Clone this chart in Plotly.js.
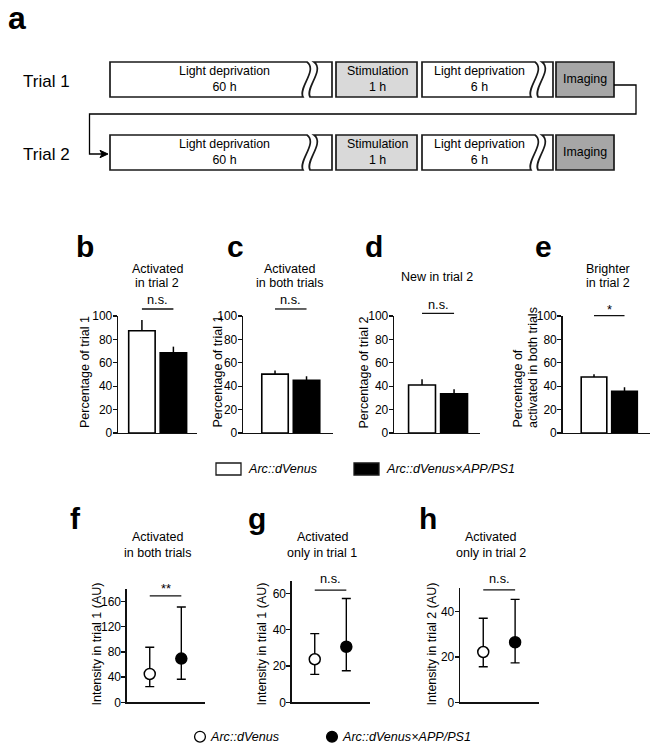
<!DOCTYPE html>
<html><head><meta charset="utf-8">
<script src="https://cdn.plot.ly/plotly-3.0.1.min.js"></script>
<style>body{margin:0;padding:0;background:#fff}#chart{width:662px;height:753px}</style>
</head><body><div id="chart"></div>
<script>
// ---------------- DATA ----------------
const groups = ['Arc::dVenus', 'Arc::dVenus×APP/PS1'];

// panel a (protocol)
const trialLabels = ['Trial 1', 'Trial 2'];
const stageLabels = ['Light deprivation<br>60 h', 'Stimulation<br>1 h', 'Light deprivation<br>6 h', 'Imaging'];

// panels b-e (bars: mean, error)
const barTitles = [['Activated', 'in trial 2'], ['Activated', 'in both trials'], ['New in trial 2'], ['Brighter', 'in trial 2']];
const barYLabels = [['Percentage of trial 1'], ['Percentage of trial 1'], ['Percentage of trial 2'], ['Percentage of', 'activated in both trials']];
const meanB = [87.4, 68.6], errB = [9.1, 5.2];
const meanC = [50.3, 45.0], errC = [3.2, 3.5];
const meanD = [41.0, 33.6], errD = [4.9, 3.7];
const meanE = [47.8, 35.6], errE = [2.5, 3.4];
const barTicks = [0, 20, 40, 60, 80, 100];
const barSig = ['n.s.', 'n.s.', 'n.s.', '*'];
const barSigLevel = [106, 106, 102.3, 100.3];

// panels f-h (points: median, lower, upper)
const ptTitles = [['Activated', 'in both trials'], ['Activated', 'only in trial 1'], ['Activated', 'only in trial 2']];
const ptYLabels = ['Intensity in trial 1 (AU)', 'Intensity in trial 1 (AU)', 'Intensity in trial 2 (AU)'];
const medF = [45.0, 69.4], lowF = [24.9, 36.6], highF = [87.4, 151.5];
const medG = [23.7, 30.6], lowG = [15.4, 17.4], highG = [37.8, 57.2];
const medH = [22.2, 26.5], lowH = [15.7, 17.4], highH = [37.1, 45.4];
const ticksF = [0, 40, 80, 120, 160], ticksG = [0, 20, 40, 60], ticksH = [0, 20, 40];
const ptSig = ['**', 'n.s.', 'n.s.'];
const ptSigLevel = [169, 61.8, 49.6];

// ---------------- GEOMETRY / STYLE ----------------
const W = 662, H = 753;
const px = x => x / W, py = y => 1 - y / H;
const P = (x, y) => px(x) + ',' + py(y);
const FONT = 'Liberation Sans, Arial, Helvetica, sans-serif';
const AX = '#111', TXT = '#000';
const BODY = 12.5;

const barGeom = [
  {l: 118, r: 197, t: 316, b: 433, xr: [-0.76, 1.75], yr: [0, 100], sh: 0.6},
  {l: 243, r: 333, t: 316, b: 433, xr: [-1.016, 1.84], yr: [0, 100], sh: 0.6},
  {l: 394, r: 480, t: 316, b: 433, xr: [-0.875, 1.81], yr: [0, 100], sh: 0.3},
  {l: 562.5, r: 650, t: 316, b: 433, xr: [-1.033, 1.836], yr: [0, 100], sh: -2}
];
const ptGeom = [
  {l: 126.7, r: 205, t: 589, b: 702.3, xr: [-0.73, 1.75], yr: [0, 180], sh: -0.7},
  {l: 291.7, r: 370, t: 581, b: 702.3, xr: [-0.73, 1.75], yr: [0, 66.8], sh: 2.6},
  {l: 460, r: 539, t: 588.3, b: 702.3, xr: [-0.73, 1.75], yr: [0, 50.3], sh: 2.6}
];

const layout = {
  width: W, height: H, margin: {l: 0, r: 0, t: 0, b: 0},
  paper_bgcolor: '#fff', plot_bgcolor: 'rgba(0,0,0,0)', showlegend: false,
  font: {family: FONT, size: 12, color: TXT},
  shapes: [], annotations: []
};

function ann(text, x, y, o) {
  layout.annotations.push(Object.assign({
    text: text, x: px(x), y: py(y), xref: 'paper', yref: 'paper', showarrow: false,
    xanchor: 'center', yanchor: 'middle', borderpad: 0,
    font: {family: FONT, size: BODY, color: TXT}
  }, o || {}));
}
function letter(ch, xLeft, baseline, size) {
  size = size || 30;
  ann('<b>' + ch + '</b>', xLeft, baseline - 0.3465 * size, {xanchor: 'left', font: {family: FONT, size: size, color: '#000'}});
}
function toPaperY(g, v) {
  return py(g.b) + (v - g.yr[0]) / (g.yr[1] - g.yr[0]) * (py(g.t) - py(g.b));
}
function axisPair(i, g, tickvals) {
  const n = i === 0 ? '' : String(i + 1);
  layout['xaxis' + n] = {domain: [px(g.l), px(g.r)], range: g.xr, anchor: 'y' + n, type: 'category',
    showline: true, linecolor: AX, linewidth: 1.3, ticks: '', showticklabels: false,
    showgrid: false, zeroline: false, fixedrange: true};
  layout['yaxis' + n] = {domain: [py(g.b), py(g.t)], range: g.yr, anchor: 'x' + n,
    showline: true, linecolor: AX, linewidth: 1.3, ticks: 'outside', ticklen: 4, tickwidth: 1.3,
    tickcolor: AX, tickvals: tickvals, showgrid: false, zeroline: false, ticklabelstandoff: -2,
    tickfont: {family: FONT, size: 12, color: TXT}, fixedrange: true};
  return n;
}
function sig(n, g, level, text) {
  const yp = toPaperY(g, level);
  layout.shapes.push({type: 'line', xref: 'x' + n, yref: 'paper', x0: 0, x1: 1, y0: yp, y1: yp,
    line: {color: AX, width: 1.3}});
  layout.annotations.push({text: text, xref: 'x' + n, yref: 'paper', x: 0.5, y: yp, yanchor: 'bottom',
    xanchor: 'center', yshift: g.sh, showarrow: false, borderpad: 0,
    font: {family: FONT, size: 12.8, color: TXT}});
}

// ---------------- PANEL a ----------------
letter('a', 7.2, 29.3, 32);
const rowTops = [62, 135], rowH = 35;
const boxLine = {color: '#1a1a1a', width: 1.7};
function pathShape(d, fill) {
  layout.shapes.push({type: 'path', xref: 'paper', yref: 'paper', path: d, fillcolor: fill, line: boxLine});
}
function rectShape(x0, x1, y0, y1, fill, lw) {
  layout.shapes.push({type: 'rect', xref: 'paper', yref: 'paper', x0: px(x0), x1: px(x1), y0: py(y1), y1: py(y0), fillcolor: fill,
    line: lw ? {color: '#1a1a1a', width: lw} : boxLine});
}
function brokenBox(xl, xw, xr, t, b) {
  pathShape('M ' + P(xl, t) + ' L ' + P(xw, t) + ' C ' + P(xw + 11, t + 8) + ' ' + P(xw - 9, b - 9) + ' ' + P(xw - 4, b) +
    ' L ' + P(xl, b) + ' Z', '#fff');
  const x2 = xw + 7;
  pathShape('M ' + P(x2, t) + ' L ' + P(xr, t) + ' L ' + P(xr, b) + ' L ' + P(x2 - 4, b) +
    ' C ' + P(x2 - 9, b - 9) + ' ' + P(x2 + 11, t + 8) + ' ' + P(x2, t) + ' Z', '#fff');
}
rowTops.forEach(function (t, r) {
  const b = t + rowH, cy = t + 17.3;
  brokenBox(110, 307, 332, t, b);
  rectShape(336, 417, t, b, '#d9d9d9');
  brokenBox(422, 535, 553, t, b);
  rectShape(556, 614, t, b, '#a6a6a6');
  const f = {family: FONT, size: 12.4, color: TXT};
  ann(stageLabels[0], 224, cy, {font: f});
  ann(stageLabels[1], 377, cy, {font: f});
  ann(stageLabels[2], 479, cy, {font: f});
  ann(stageLabels[3], 585, cy, {font: f});
  ann(trialLabels[r], 46.5, t + 19.5, {font: {family: FONT, size: 17, color: TXT}});
});
// connector arrow
layout.shapes.push({type: 'path', xref: 'paper', yref: 'paper',
  path: 'M ' + P(614, 85) + ' L ' + P(636, 85) + ' L ' + P(636, 114) + ' L ' + P(89.5, 114) + ' L ' + P(89.5, 154) + ' L ' + P(102, 154),
  line: {color: '#000', width: 1.3}});
layout.shapes.push({type: 'path', xref: 'paper', yref: 'paper',
  path: 'M ' + P(100, 150.3) + ' L ' + P(108, 154) + ' L ' + P(100, 157.7) + ' L ' + P(102, 154) + ' Z',
  fillcolor: '#000', line: {color: '#000', width: 1}});

// ---------------- PANELS b-e ----------------
const traces = [];
const barMeans = [meanB, meanC, meanD, meanE], barErrs = [errB, errC, errD, errE];
const barLetters = ['b', 'c', 'd', 'e'];
const barLetterPos = [[75, 257.3], [225.8, 257.3], [363.8, 257.3], [533.8, 257.3]];
const barTitleX = [157, 289, 437, 607.7];
const barYLabelX = [[85], [217.5], [363.5], [517.5, 532.5]];
barGeom.forEach(function (g, i) {
  const n = axisPair(i, g, barTicks);
  traces.push({type: 'bar', x: groups, y: barMeans[i], xaxis: 'x' + n, yaxis: 'y' + n, width: 0.84,
    marker: {color: ['#ffffff', '#000000'], line: {color: '#000', width: 1.6}},
    error_y: {type: 'data', symmetric: false, array: barErrs[i], arrayminus: [0, 0], color: '#000', thickness: 1.5, width: 0},
    hoverinfo: 'skip'});
  sig(n, g, barSigLevel[i], barSig[i]);
  letter(barLetters[i], barLetterPos[i][0], barLetterPos[i][1]);
  const lines = barTitles[i];
  if (lines.length === 1) ann(lines[0], barTitleX[i], 276.7);
  else lines.forEach(function (s, k) { ann(s, barTitleX[i], 269 + 14 * k); });
  barYLabels[i].forEach(function (s, k) {
    ann(s, barYLabelX[i][k], 429, {textangle: -90, yanchor: 'bottom', font: {family: FONT, size: BODY, color: TXT}});
  });
});

// legend for bars
rectShape(216, 241, 463, 475, '#fff', 1.3);
rectShape(354, 379, 463, 475, '#000', 1.3);
ann('<i>' + groups[0] + '</i>', 247, 469, {xanchor: 'left', font: {family: FONT, size: 12.6, color: TXT}});
ann('<i>' + groups[1] + '</i>', 385, 469, {xanchor: 'left', font: {family: FONT, size: 12.6, color: TXT}});

// ---------------- PANELS f-h ----------------
const meds = [medF, medG, medH], lows = [lowF, lowG, lowH], highs = [highF, highG, highH];
const ptTicks = [ticksF, ticksG, ticksH];
const ptLetters = ['f', 'g', 'h'];
const ptLetterPos = [[69.4, 529.3], [246.8, 529.3], [418, 529.3]];
const ptTitleX = [157, 322, 490.7];
const ptYLabelX = [96, 261, 431];
ptGeom.forEach(function (g, j) {
  const n = axisPair(4 + j, g, ptTicks[j]);
  const m = meds[j];
  traces.push({type: 'scatter', mode: 'markers', x: groups, y: m, xaxis: 'x' + n, yaxis: 'y' + n, cliponaxis: false,
    marker: {size: 11, color: ['#ffffff', '#000000'], line: {color: '#000', width: 1.5}},
    error_y: {type: 'data', symmetric: false,
      array: highs[j].map(function (v, k) { return v - m[k]; }),
      arrayminus: lows[j].map(function (v, k) { return m[k] - v; }),
      color: '#000', thickness: 1.4, width: 4.5},
    hoverinfo: 'skip'});
  sig(n, g, ptSigLevel[j], ptSig[j]);
  letter(ptLetters[j], ptLetterPos[j][0], ptLetterPos[j][1]);
  ptTitles[j].forEach(function (s, k) { ann(s, ptTitleX[j], 537.3 + 15.4 * k); });
  ann(ptYLabels[j], ptYLabelX[j], 707, {textangle: -90, yanchor: 'bottom', font: {family: FONT, size: BODY, color: TXT}});
});

// legend for points
layout.shapes.push({type: 'circle', xref: 'paper', yref: 'paper', x0: px(194.6), x1: px(205.4), y0: py(742.1), y1: py(731.3), fillcolor: '#fff', line: {color: '#000', width: 1.3}});
layout.shapes.push({type: 'circle', xref: 'paper', yref: 'paper', x0: px(326.6), x1: px(337.4), y0: py(742.1), y1: py(731.3), fillcolor: '#000', line: {color: '#000', width: 1.3}});
ann('<i>' + groups[0] + '</i>', 209, 736.7, {xanchor: 'left', font: {family: FONT, size: 12.6, color: TXT}});
ann('<i>' + groups[1] + '</i>', 341, 736.7, {xanchor: 'left', font: {family: FONT, size: 12.6, color: TXT}});

Plotly.newPlot('chart', traces, layout, {displayModeBar: false, staticPlot: true});
</script>
</body></html>
